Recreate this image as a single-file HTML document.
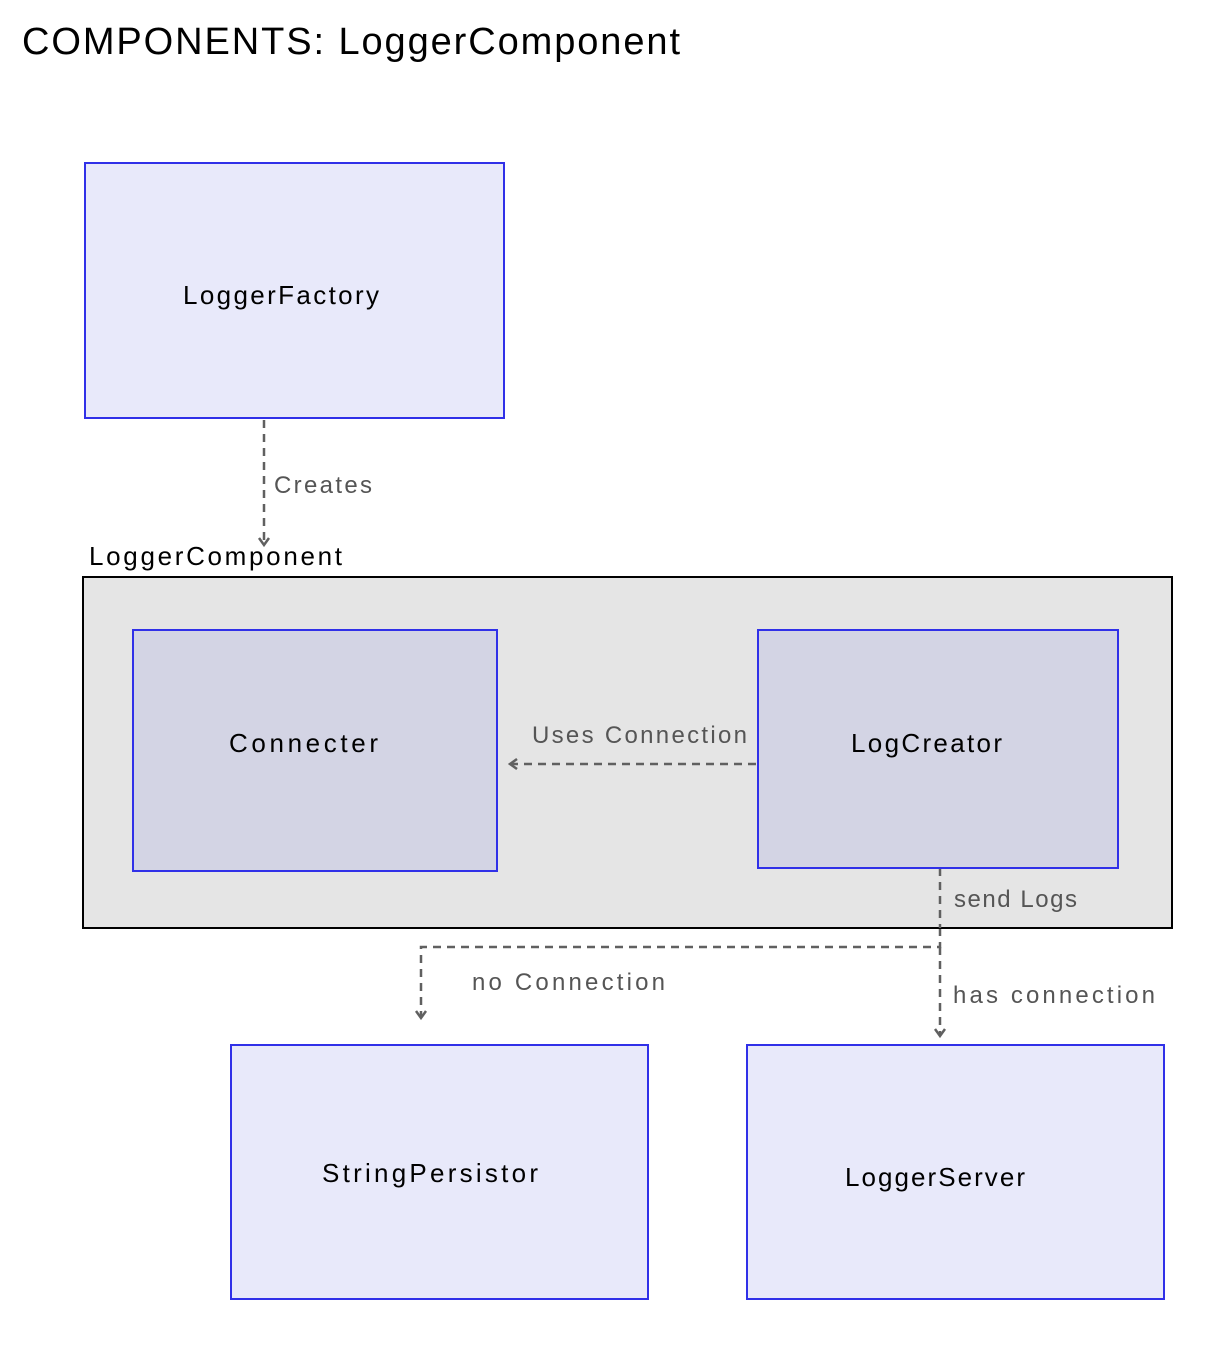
<!DOCTYPE html>
<html><head><meta charset="utf-8"><style>
html,body{margin:0;padding:0;background:#fff;}
svg{display:block;}
text{font-family:"Liberation Sans",sans-serif;}
</style></head><body>
<svg width="1224" height="1354" viewBox="0 0 1224 1354" xmlns="http://www.w3.org/2000/svg">
<rect width="1224" height="1354" fill="#fff"/>
<text x="22" y="54" font-size="38" fill="#000" textLength="658" lengthAdjust="spacing">COMPONENTS: LoggerComponent</text>

<rect x="85" y="163" width="419" height="255" fill="#e8e9fa" stroke="#3030e8" stroke-width="2"/>
<text x="183" y="304" font-size="26" fill="#000" textLength="196" lengthAdjust="spacing">LoggerFactory</text>

<g stroke="#606060" stroke-width="2.5" fill="none" stroke-dasharray="8,6">
<line x1="264" y1="420" x2="264" y2="542"/>
<polyline points="940,928 940,947 421,947 421,1016"/>
<line x1="940" y1="947" x2="940" y2="1034"/>
</g>
<g stroke="#606060" stroke-width="2.5" fill="none">
<polyline points="259,538 264,545 269,538"/>
<polyline points="416,1011 421,1018 426,1011"/>
<polyline points="935,1029 940,1036 945,1029"/>
</g>
<text x="274" y="493" font-size="24" fill="#555" textLength="98" lengthAdjust="spacing">Creates</text>

<text x="89" y="565" font-size="26" fill="#000" textLength="253" lengthAdjust="spacing">LoggerComponent</text>
<rect x="83" y="577" width="1089" height="351" fill="#e5e5e5" stroke="#000" stroke-width="2"/>
<line x1="940" y1="868" x2="940" y2="928" stroke="#606060" stroke-width="2.5" stroke-dasharray="8,6"/>
<rect x="133" y="630" width="364" height="241" fill="#d3d4e4" stroke="#3030e8" stroke-width="2"/>
<text x="229" y="752" font-size="26" fill="#000" textLength="149" lengthAdjust="spacing">Connecter</text>
<rect x="758" y="630" width="360" height="238" fill="#d3d4e4" stroke="#3030e8" stroke-width="2"/>
<text x="851" y="752" font-size="26" fill="#000" textLength="151" lengthAdjust="spacing">LogCreator</text>
<line x1="756" y1="764" x2="512" y2="764" stroke="#606060" stroke-width="2.5" stroke-dasharray="8,6"/>
<polyline points="517,759 510,764 517,769" stroke="#606060" stroke-width="2.5" fill="none"/>
<text x="532" y="743" font-size="24" fill="#555" textLength="215" lengthAdjust="spacing">Uses Connection</text>
<text x="954" y="907" font-size="24" fill="#555" textLength="123" lengthAdjust="spacing">send Logs</text>
<text x="472" y="990" font-size="24" fill="#555" textLength="193" lengthAdjust="spacing">no Connection</text>
<text x="953" y="1003" font-size="24" fill="#555" textLength="202" lengthAdjust="spacing">has connection</text>

<rect x="231" y="1045" width="417" height="254" fill="#e8e9fa" stroke="#3030e8" stroke-width="2"/>
<text x="322" y="1182" font-size="26" fill="#000" textLength="216" lengthAdjust="spacing">StringPersistor</text>
<rect x="747" y="1045" width="417" height="254" fill="#e8e9fa" stroke="#3030e8" stroke-width="2"/>
<text x="845" y="1186" font-size="26" fill="#000" textLength="180" lengthAdjust="spacing">LoggerServer</text>
</svg>
</body></html>
